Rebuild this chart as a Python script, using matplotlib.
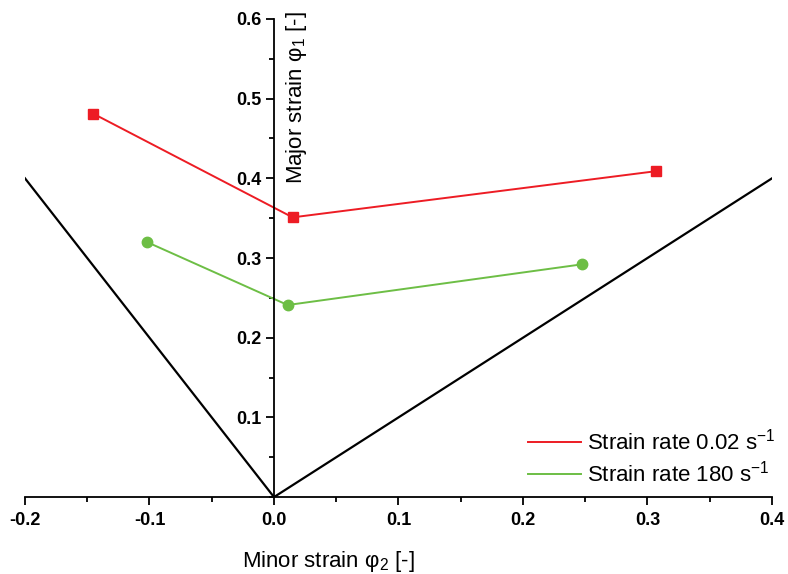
import numpy as np
import matplotlib.pyplot as plt
from matplotlib.ticker import MultipleLocator

plt.rcParams['font.family'] = ['Liberation Sans', 'DejaVu Sans']
plt.rcParams['mathtext.fontset'] = 'custom'
plt.rcParams['mathtext.rm'] = 'Liberation Sans'

# forming limit points
phi2_slow = [-0.145, 0.015, 0.307]
phi1_slow = [0.481, 0.351, 0.409]
phi2_fast = [-0.102, 0.011, 0.247]
phi1_fast = [0.320, 0.241, 0.292]

# reference lines (uniaxial / biaxial limits)
ref_x = [-0.2, 0.0, 0.4]
ref_y = [0.4, 0.0, 0.4]

fig = plt.figure(figsize=(7.88, 5.74), dpi=100)
ax = fig.add_axes([0.0317, 0.134, 0.948, 0.833])

ax.plot(ref_x, ref_y, '-', color='black', lw=1.6)
ax.plot(phi2_slow, phi1_slow, '-', color='#ED1C24', lw=1.4,
        marker='s', markersize=6.5, label='Strain rate 0.02 s$^{-1}$')
ax.plot(phi2_fast, phi1_fast, '-', color='#6DBE45', lw=1.4,
        marker='o', markersize=7.5, label='Strain rate 180 s$^{-1}$')

ax.set_xlim(-0.2, 0.4)
ax.set_ylim(0, 0.6)
ax.spines['left'].set_position(('data', 0))
ax.spines['top'].set_visible(False)
ax.spines['right'].set_visible(False)
for s in ('left', 'bottom'):
    ax.spines[s].set_linewidth(1.3)

ax.set_xticks(np.arange(-0.2, 0.41, 0.1))
ax.set_xticklabels(['-0.2', '-0.1', '0.0', '0.1', '0.2', '0.3', '0.4'],
                   fontsize=13, fontweight='bold')
ax.set_yticks(np.arange(0.1, 0.61, 0.1))
ax.set_yticklabels(['0.1', '0.2', '0.3', '0.4', '0.5', '0.6'],
                   fontsize=13, fontweight='bold')
ax.xaxis.set_minor_locator(MultipleLocator(0.05))
ax.yaxis.set_minor_locator(MultipleLocator(0.05))
ax.tick_params(which='major', direction='out', length=6, width=1.3)
ax.tick_params(which='minor', direction='out', length=3.5, width=1.3)
ax.tick_params(axis='x', which='major', pad=5)
ax.tick_params(axis='y', which='major', pad=3)

ax.set_xlabel('Minor strain φ$_2$ [-]', fontsize=16)
ax.xaxis.set_label_coords(0.406, -0.109)
ax.set_ylabel('Major strain φ$_1$ [-]', fontsize=16)
ax.yaxis.set_label_coords(0.380, 0.835)

leg = ax.legend(loc='upper left', bbox_to_anchor=(0.661, 0.161), frameon=False,
                fontsize=16, handlelength=2.4, handletextpad=0.25,
                labelspacing=0.25, borderaxespad=0)
for h in leg.legend_handles:
    h.set_marker('')

fig.savefig('out.png', dpi=100)
